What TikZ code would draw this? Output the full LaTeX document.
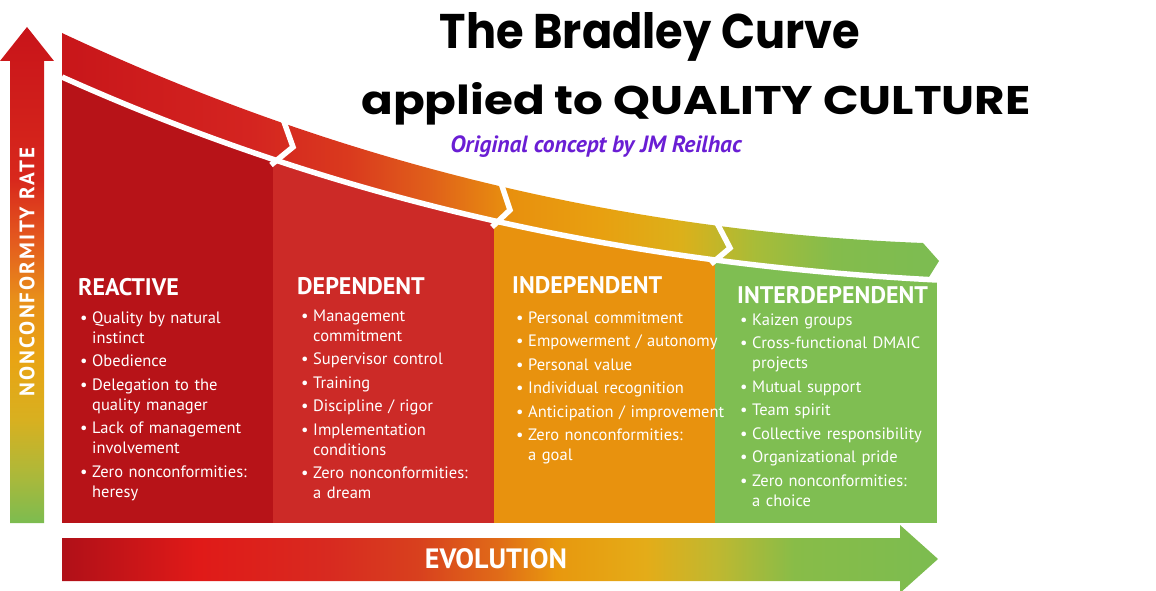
\documentclass[tikz,border=0pt]{standalone}
\usepackage{fontspec}
\usepackage{graphicx}
\setmainfont{PT Sans}
\newfontfamily\titlefont{Poppins}
\usetikzlibrary{positioning}

% column colours
\definecolor{reactred}{HTML}{B71318}
\definecolor{depred}{HTML}{CC2A27}
\definecolor{indorange}{HTML}{E8920E}
\definecolor{intgreen}{HTML}{7FBE52}
\definecolor{subpurple}{HTML}{6A1ED4}
% curve band
\definecolor{bA}{HTML}{C8161A}\definecolor{bB}{HTML}{D42420}
\definecolor{bC}{HTML}{DA3A1E}\definecolor{bD}{HTML}{E0601A}
\definecolor{bE}{HTML}{E8900E}\definecolor{bF}{HTML}{E8A010}
\definecolor{bG}{HTML}{DCB01A}\definecolor{bH}{HTML}{A8BC38}
\definecolor{bI}{HTML}{84BC4C}\definecolor{bJ}{HTML}{7CBC52}
% evolution arrow
\definecolor{eA}{HTML}{B01018}\definecolor{eB}{HTML}{E01A18}
\definecolor{eC}{HTML}{D82A20}\definecolor{eD}{HTML}{D8401E}
\definecolor{eE}{HTML}{E06A18}\definecolor{eF}{HTML}{E8980E}
\definecolor{eG}{HTML}{E4AC18}\definecolor{eH}{HTML}{C0B830}
\definecolor{eI}{HTML}{88BC48}\definecolor{eJ}{HTML}{7CBC50}
% rate arrow
\definecolor{vA}{HTML}{7CBC50}\definecolor{vB}{HTML}{B0B838}
\definecolor{vC}{HTML}{D8B020}\definecolor{vD}{HTML}{E8A414}
\definecolor{vE}{HTML}{E8901A}\definecolor{vF}{HTML}{E45A1E}
\definecolor{vG}{HTML}{D8281C}\definecolor{vH}{HTML}{C8141A}

\pgfdeclarehorizontalshading{bandshade}{100bp}{color(0bp)=(bA); color(25bp)=(bA);
  color(35.7bp)=(bB); color(41.4bp)=(bC); color(46bp)=(bD); color(50.5bp)=(bE);
  color(55.7bp)=(bF); color(60.3bp)=(bG); color(64.5bp)=(bH); color(69bp)=(bI);
  color(75bp)=(bJ); color(100bp)=(bJ)}
\pgfdeclarehorizontalshading{evoshade}{100bp}{color(0bp)=(eA); color(25bp)=(eA);
  color(32.8bp)=(eB); color(40.2bp)=(eC); color(45.3bp)=(eD); color(49.8bp)=(eE);
  color(53.2bp)=(eF); color(58.3bp)=(eG); color(62.3bp)=(eH); color(66.8bp)=(eI);
  color(75bp)=(eJ); color(100bp)=(eJ)}
\pgfdeclareverticalshading{rateshade}{100bp}{color(0bp)=(vA); color(25bp)=(vA);
  color(30.3bp)=(vB); color(35.4bp)=(vC); color(41.4bp)=(vD); color(47.5bp)=(vE);
  color(53.5bp)=(vF); color(59.6bp)=(vG); color(75bp)=(vH); color(100bp)=(vH)}

% one bullet item
\newcommand\bul[1]{\setlength\parskip{3.5pt}\hangindent=12pt\hangafter=1\noindent
  \makebox[12pt][l]{\textbullet}#1\par}

\tikzset{
  gapline/.style={white,line width=5.5pt,line join=miter},
  colhead/.style={anchor=base west,text=white,inner sep=0pt,
    font=\bfseries\fontsize{24}{24}\selectfont},
  colitems/.style={anchor=base west,text=white,inner sep=0pt,text width=225pt,
    align=left,font=\fontsize{16.5}{20}\selectfont},
  axislabel/.style={text=white,inner sep=0pt,font=\bfseries\fontsize{21}{21}\selectfont}
}

\begin{document}
\begin{tikzpicture}[x=1pt,y=-1pt]
  \useasboundingbox (0,0) rectangle (1156,591);
  % rate axis
  \shade[shading=rateshade] (10,523) -- (10,61) -- (0,61) -- (27,27) -- (54,61)
    -- (44,61) -- (44,523) -- cycle;
  \node[axislabel,rotate=90] (rate) at (27,272)
    {\addfontfeature{LetterSpace=10}NONCONFORMITY RATE};
  % evolution axis
  \shade[shading=evoshade] (62,538) -- (900,538) -- (900,525) -- (938,559)
    -- (900,593) -- (900,581) -- (62,581) -- cycle;
  \node[axislabel,anchor=base,font=\bfseries\fontsize{28}{28}\selectfont] (evo)
    at (496,568) {EVOLUTION};
  % the four stages
  \begin{scope}
    \clip (62,77) .. controls (354,208) and (645,265) .. (937,280) -- (937,523)
      -- (62,523) -- cycle;
    \fill[reactred] (62,60) rectangle (273,523);
    \fill[depred] (273,60) rectangle (494,523);
    \fill[indorange] (494,60) rectangle (715,523);
    \fill[intgreen] (715,60) rectangle (937,523);
  \end{scope}
  % curve band
  \shade[shading=bandshade] (62,33) .. controls (354,170) and (640,232) .. (923,243)
    -- (939,261) -- (929,277) -- (937,280) .. controls (645,265) and (354,208) .. (62,77)
    -- cycle;
  \draw[gapline] (62,77) .. controls (354,208) and (645,265) .. (937,280);
  \draw[gapline] (271,165) -- (293,147) -- (283,119);
  \draw[gapline] (492,227) -- (510,210) -- (501,183);
  \draw[gapline] (711,264) -- (730,248) -- (717,223);
  % titles
  \node[anchor=base,inner sep=0pt,font=\titlefont\bfseries] (title)
    at (650,49) {\resizebox{420pt}{36pt}{The Bradley Curve}};
  \node[anchor=base,inner sep=0pt,font=\titlefont\bfseries] (title2)
    at (696,115) {\resizebox{669pt}{32pt}{applied to QUALITY CULTURE}};
  \node[anchor=base,inner sep=0pt,text=subpurple,
    font=\bfseries\itshape\fontsize{23.5}{23.5}\selectfont] (sub)
    at (596,152) {Original concept by JM Reilhac};
  % stage texts
  \node[colhead] (reactive) at (78,295) {REACTIVE};
  \node[colitems] (reactlist) at (80,323) {%
    \bul{Quality by natural\newline instinct}
    \bul{Obedience}
    \bul{Delegation to the\newline quality manager}
    \bul{Lack of management\newline involvement}
    \bul{Zero nonconformities:\newline heresy}};
  \node[colhead] (dependent) at (297,294) {DEPENDENT};
  \node[colitems] (deplist) at (301,321) {%
    \bul{Management\newline commitment}
    \bul{Supervisor control}
    \bul{Training}
    \bul{Discipline / rigor}
    \bul{Implementation\newline conditions}
    \bul{Zero nonconformities:\newline a dream}};
  \node[colhead] (independent) at (512,293) {INDEPENDENT};
  \node[colitems] (indlist) at (516,323) {%
    \bul{Personal commitment}
    \bul{Empowerment / autonomy}
    \bul{Personal value}
    \bul{Individual recognition}
    \bul{Anticipation / improvement}
    \bul{Zero nonconformities:\newline a goal}};
  \node[colhead] (interdependent) at (737,303) {INTERDEPENDENT};
  \node[colitems] (intlist) at (740,325) {%
    \bul{Kaizen groups}
    \bul{Cross-functional DMAIC\newline projects}
    \bul{Mutual support}
    \bul{Team spirit}
    \bul{Collective responsibility}
    \bul{Organizational pride}
    \bul{Zero nonconformities:\newline a choice}};
\end{tikzpicture}
\end{document}
